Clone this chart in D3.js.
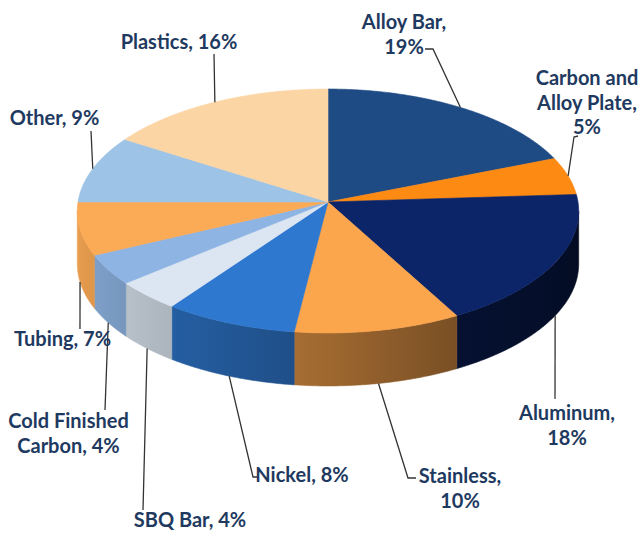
<!DOCTYPE html>
<html>
<head>
<meta charset="utf-8">
<script src="https://cdn.jsdelivr.net/npm/d3@7"></script>
<style>
  html, body { margin: 0; padding: 0; background: #ffffff; }
  svg { display: block; }
</style>
</head>
<body>
<svg id="chart" width="639" height="540"></svg>
<script>
// Product mix, share of sales (%), clockwise from 12 o'clock
const categories = ["Alloy Bar", "Carbon and Alloy Plate", "Aluminum", "Stainless", "Nickel",
                    "SBQ Bar", "Cold Finished Carbon", "Tubing", "Other", "Plastics"];
const shares = [19, 5, 18, 10, 8, 4, 4, 7, 9, 16];

// Top-face colours per slice
const palette = ["#1f4b85", "#fd8a12", "#0c2468", "#fba54c", "#2f78cf",
                 "#dce6f2", "#8eb4e3", "#fbaa55", "#9dc3e6", "#fcd5a4"];

// How many words go on each label line
const labelWrap = [[2, 1], [2, 2, 1], [1, 1], [1, 1], [2], [3], [2, 2], [2], [2], [2]];

// Label placement: centre x, first baseline, leader line end points
const labelLayout = [
  { x: 404, y: 29,  leader: [[433, 49], [425, 49]] },
  { x: 587, y: 85,  leader: [[574, 137], [578, 136]] },
  { x: 567, y: 420, leader: [[555, 399]] },
  { x: 460, y: 483, leader: [[408, 478], [416, 478]] },
  { x: 302, y: 482, leader: [[253, 477], [258, 477]] },
  { x: 190, y: 527, leader: [[143, 510]] },
  { x: 68.5, y: 428, leader: [[105, 410]] },
  { x: 62.5, y: 346, leader: [[80, 329]] },
  { x: 54.5, y: 125, leader: [[91, 131]] },
  { x: 179, y: 49,  leader: [[214, 54]] }
];

// Perspective disc: centre, half-axes, foreshortening and thickness
const geo = { cx: 328, cy: 202, a: 250, b: 121.3, k: 0.0737, depth: 53 };

function proj(t, drop) {
  const x = Math.sin(t), z = Math.cos(t), d = 1 + geo.k * z;
  return [geo.cx + geo.a * x / d, geo.cy - geo.b * z / d + (drop || 0)];
}

// Angles where the rim turns away from the viewer (silhouette)
const rimFrom = Math.acos(-geo.k), rimTo = 2 * Math.PI - rimFrom;

// Side wall brightness by angle (degrees clockwise from top): lit from the left
const sideLight = d3.scaleLinear()
  .domain([0, 90, 150, 180, 210, 240, 270, 360])
  .range([0.3, 0.3, 0.47, 0.63, 0.76, 0.87, 0.95, 0.95]);

function shade(color, f) {
  const c = d3.rgb(color);
  return d3.rgb(c.r * f, c.g * f, c.b * f).formatHex();
}

const svg = d3.select("#chart");
const defs = svg.append("defs");
const arcs = d3.pie().sort(null).startAngle(0).endAngle(2 * Math.PI)(shares);

function arcPoints(t0, t1, drop, stepRad) {
  const n = Math.max(4, Math.ceil((t1 - t0) / stepRad));
  return d3.range(n + 1).map(s => proj(t0 + (t1 - t0) * s / n, drop));
}

// Visible side walls, each shaded left-to-right with a gradient
const sides = arcs.map((a, i) => {
  const s0 = Math.max(a.startAngle, rimFrom), s1 = Math.min(a.endAngle, rimTo);
  return s1 > s0 ? { i, s0, s1 } : null;
}).filter(Boolean);

sides.forEach(s => {
  const x0 = proj(s.s0)[0], x1 = proj(s.s1)[0];
  const g = defs.append("linearGradient")
    .attr("id", "side-" + s.i)
    .attr("gradientUnits", "userSpaceOnUse")
    .attr("x1", x0).attr("y1", 0).attr("x2", x1).attr("y2", 0);
  d3.range(9).forEach(j => {
    const t = s.s0 + (s.s1 - s.s0) * j / 8;
    g.append("stop")
      .attr("offset", ((proj(t)[0] - x0) / (x1 - x0)).toFixed(4))
      .attr("stop-color", shade(palette[s.i], sideLight(t * 180 / Math.PI)));
  });
});

svg.append("g").attr("class", "sides")
  .selectAll("path").data(sides).join("path")
  .attr("d", s => {
    const top = arcPoints(s.s0, s.s1, 0, Math.PI / 360);
    const bottom = arcPoints(s.s0, s.s1, geo.depth, Math.PI / 360).reverse();
    return "M" + top.concat(bottom).map(q => q.join(",")).join("L") + "Z";
  })
  .attr("fill", s => "url(#side-" + s.i + ")")
  .attr("stroke", s => "url(#side-" + s.i + ")")
  .attr("stroke-width", 0.6)
  .attr("stroke-linejoin", "round");

// Top faces
svg.append("g").attr("class", "tops")
  .selectAll("path").data(arcs).join("path")
  .attr("d", a => {
    const pts = [[geo.cx, geo.cy]].concat(arcPoints(a.startAngle, a.endAngle, 0, Math.PI / 360));
    return "M" + pts.map(q => q.join(",")).join("L") + "Z";
  })
  .attr("fill", (d, i) => palette[i])
  .attr("stroke", (d, i) => palette[i])
  .attr("stroke-width", 0.6)
  .attr("stroke-linejoin", "round");

// Leader lines from each slice's rim to its label
svg.append("g").attr("class", "leaders")
  .selectAll("path").data(arcs).join("path")
  .attr("d", (a, i) => {
    const tm = (a.startAngle + a.endAngle) / 2;
    const start = proj(tm, Math.cos(tm) < 0 ? geo.depth : 0);
    return d3.line()([start].concat(labelLayout[i].leader));
  })
  .attr("fill", "none")
  .attr("stroke", "#333333")
  .attr("stroke-width", 1.3);

// Labels: "Category, NN%"
const labels = svg.append("g").attr("class", "labels")
  .attr("font-family", "Lato, 'Open Sans', sans-serif")
  .attr("font-weight", "bold")
  .attr("font-size", 20)
  .attr("fill", "#1f3a60")
  .attr("text-anchor", "middle");

categories.forEach((cat, i) => {
  const words = (cat + ", " + shares[i] + "%").split(" ");
  const lines = [];
  let w = 0;
  labelWrap[i].forEach(cnt => { lines.push(words.slice(w, w + cnt).join(" ")); w += cnt; });
  const t = labels.append("text").attr("x", labelLayout[i].x).attr("y", labelLayout[i].y);
  lines.forEach((ln, j) => {
    t.append("tspan").attr("x", labelLayout[i].x).attr("dy", j === 0 ? 0 : 24.5).text(ln);
  });
});
</script>
</body>
</html>
